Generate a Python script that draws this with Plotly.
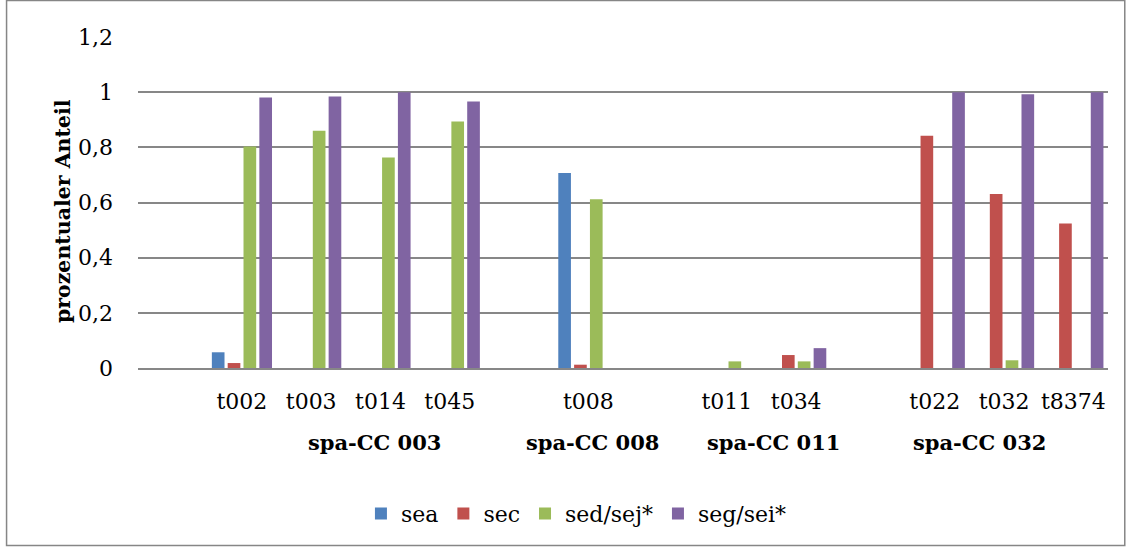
import plotly.graph_objects as go

# Category slots along the x axis (empty strings are spacer slots between clusters)
slots = ["", "t002", "t003", "t014", "t045", "", "t008", "", "t011", "t034", "", "t022", "t032", "t8374"]

# Cluster labels and the slot position each is centred on
clusters = ["spa-CC 003", "spa-CC 008", "spa-CC 011", "spa-CC 032"]
cluster_pos = [2.91, 6.06, 8.67, 11.65]

# Share per spa type and series (None = no bar in a spacer slot)
sea = [None, 0.057, 0, 0, 0, None, 0.707, None, 0, 0, None, 0, 0, 0]
sec = [None, 0.018, 0, 0, 0, None, 0.012, None, 0, 0.047, None, 0.842, 0.631, 0.524]
sed_sej = [None, 0.803, 0.860, 0.763, 0.894, None, 0.612, None, 0.024, 0.024, None, 0, 0.028, 0]
seg_sei = [None, 0.981, 0.984, 1.0, 0.966, None, 0, None, 0, 0.072, None, 1.0, 0.992, 1.0]

series_names = ["sea", "sec", "sed/sej*", "seg/sei*"]
series_values = [sea, sec, sed_sej, seg_sei]
series_colors = ["#4F81BD", "#C0504D", "#9BBB59", "#8064A2"]

y_ticks = [0, 0.2, 0.4, 0.6, 0.8, 1.0, 1.2]
y_tick_text = ["0", "0,2", "0,4", "0,6", "0,8", "1", "1,2"]

FONT = "DejaVu Serif"
x_pos = list(range(len(slots)))

fig = go.Figure()
for name, vals, col in zip(series_names, series_values, series_colors):
    fig.add_trace(go.Bar(
        x=x_pos, y=vals, name=name,
        marker=dict(color=col, line=dict(width=0)),
    ))

fig.update_layout(
    width=1128, height=547,
    margin=dict(l=138, r=20, t=37, b=179),
    paper_bgcolor="white", plot_bgcolor="white",
    barmode="group", bargap=0.086, bargroupgap=0.2,
    font=dict(family=FONT, size=22, color="#000000"),
    showlegend=True,
    legend=dict(
        orientation="h", x=0.452, xanchor="center", y=-0.44, yanchor="middle",
        font=dict(family=FONT, size=22, color="#000000"),
        itemclick=False, traceorder="normal", itemwidth=30,
    ),
)

fig.update_xaxes(
    range=[-0.5, len(slots) - 0.5],
    tickmode="array", tickvals=x_pos, ticktext=slots,
    showgrid=False, zeroline=False,
    showline=True, linecolor="#878787", linewidth=2,
    ticks="", ticklabelstandoff=13,
    tickfont=dict(family=FONT, size=22),
)
fig.update_yaxes(
    range=[0, 1.2],
    tickmode="array", tickvals=y_ticks, ticktext=y_tick_text,
    showgrid=True, gridcolor="#878787", gridwidth=1.5,
    zeroline=False, showline=False,
    ticks="", ticklabelstandoff=24,
    tickfont=dict(family=FONT, size=22),
)

# Y axis title
fig.add_annotation(
    text="<b>prozentualer Anteil</b>", textangle=-90,
    xref="paper", yref="paper", x=-0.078, y=0.475,
    xanchor="center", yanchor="middle", showarrow=False,
    font=dict(family=FONT, size=20.5, color="#000000"),
)

# Cluster labels below the slot labels
for lab, pos in zip(clusters, cluster_pos):
    fig.add_annotation(
        text=f"<b>{lab}</b>", x=pos, xref="x",
        y=-0.225, yref="paper", xanchor="center", yanchor="middle",
        showarrow=False, font=dict(family=FONT, size=21, color="#000000"),
    )

# Outer chart frame
fig.add_shape(
    type="rect", xref="paper", yref="paper",
    x0=-0.1355, x1=1.0173, y0=-0.5366, y1=1.110,
    line=dict(color="#868686", width=1.5), fillcolor="rgba(0,0,0,0)", layer="below",
)

fig.write_html("out.html")
